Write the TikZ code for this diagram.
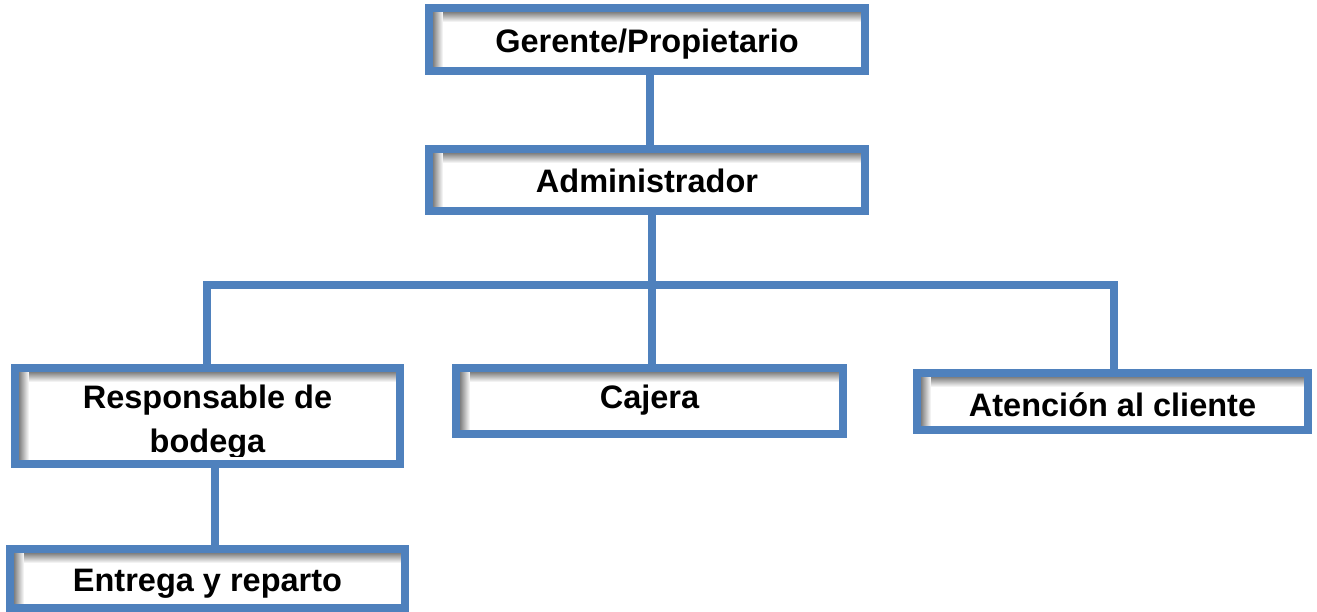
\documentclass[tikz,border=0pt]{standalone}
\usepackage{fontspec}
\setmainfont{Liberation Sans}
\definecolor{OrgBlue}{RGB}{79,129,189}

\begin{document}
\begin{tikzpicture}[x=1pt,y=-1pt]
\useasboundingbox (0,0) rectangle (1317,612);

\tikzset{BoxStyle/.style = {
 draw = OrgBlue,
 line width = 7.5pt,
 fill = white,
 inner sep = 0pt,
 text height = 26pt,
 text depth = 0pt,
 font = \fontsize{32.5}{44}\selectfont\bfseries,
 path picture = {
  \foreach \k in {9,8,...,0} {
   \pgfmathtruncatemacro{\g}{50-5*\k}
   \pgfmathtruncatemacro{\o}{4+\k}
   \draw[black!\g, line width=1.2pt]
    ([yshift={-1pt*\o}]path picture bounding box.north west) -- ([yshift={-1pt*\o}]path picture bounding box.north east);
  }
  \foreach \k in {9,8,...,0} {
   \pgfmathtruncatemacro{\g}{50-5*\k}
   \pgfmathtruncatemacro{\o}{4+\k}
   \draw[black!\g, line width=1.2pt]
    ([xshift={1pt*\o}]path picture bounding box.north west) -- ([xshift={1pt*\o}]path picture bounding box.south west);
  }
 }} }

\tikzset{TextStyle/.style = {
 inner sep = 0pt,
 anchor = base,
 font = \fontsize{32.5}{44}\selectfont\bfseries} }

\node[BoxStyle, minimum width=436pt, minimum height=63pt] (Ger) at (647,39.5) {Gerente/Propietario};
\node[BoxStyle, minimum width=436pt, minimum height=62pt] (Adm) at (647,180) {Administrador};
\node[BoxStyle, minimum width=385pt, minimum height=96pt] (Resp) at (207.5,416) {};
\node[BoxStyle, minimum width=387pt, minimum height=66pt, text height=14pt] (Caj) at (649.5,401) {Cajera};
\node[BoxStyle, minimum width=391pt, minimum height=57pt, text height=29pt] (Aten) at (1112.5,401.5) {Atención al cliente};
\node[BoxStyle, minimum width=395pt, minimum height=59pt] (Ent) at (207.5,578.5) {Entrega y reparto};

\node[TextStyle] (RespA) at (207.5,408) {Responsable de};
\begin{scope}
\clip (Resp.north west) rectangle ([yshift=11pt]Resp.south east);
\node[TextStyle] (RespB) at (207.5,452) {bodega};
\end{scope}


\tikzset{LinkStyle/.style = {draw=OrgBlue, line width=7.5pt} }

\coordinate (BusL) at (207,285);
\coordinate (BusR) at (1114,285);

\draw[LinkStyle] ([xshift=3pt]Ger.south) -- ([xshift=3pt]Adm.north);
\draw[LinkStyle] ([xshift=5pt]Adm.south) -- ([xshift=2.5pt]Caj.north);
\draw[LinkStyle] (Resp.north -| BusL) -- (BusL) -- (BusR) -- (Aten.north -| BusR);
\draw[LinkStyle] ([xshift=7.5pt]Resp.south) -- ([xshift=7.5pt]Ent.north);

\end{tikzpicture}
\end{document}
